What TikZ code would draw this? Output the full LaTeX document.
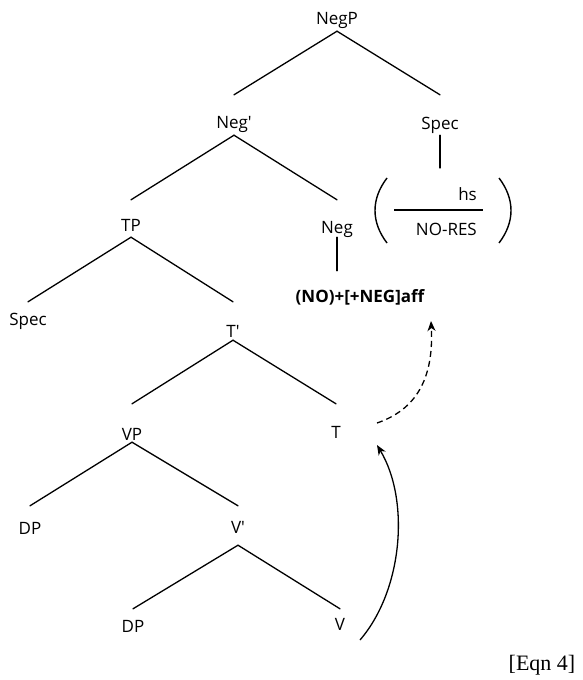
\documentclass[tikz,border=0pt]{standalone}
\usepackage{fontspec}
\setmainfont{Open Sans}[Ligatures=TeXOff]
\newfontfamily\eqnfont{Liberation Serif}
\usetikzlibrary{arrows.meta}
\begin{document}
\begin{tikzpicture}[x=1pt,y=-1pt,
  lab/.style={font=\fontsize{17}{20}\selectfont, inner sep=0pt, anchor=base},
  edge/.style={line width=1.3pt, line cap=round},
  mv/.style={line width=1.3pt, -{Stealth[length=10pt,width=8pt,inset=3pt]}},
  dashmv/.style={mv, dash pattern=on 6pt off 4pt}
]
\useasboundingbox (0,0) rectangle (582,680);
% tree labels
\node[lab, text height=33pt, text depth=7pt] (negp) at (337,24) {NegP};
\node[lab, text height=33pt, text depth=7pt] (negbar) at (234,128) {Neg'};
\node[lab, text height=34pt, text depth=6pt] (specr) at (440,129) {Spec};
\node[lab, text height=31pt, text depth=6pt] (tp) at (131,231) {TP};
\node[lab, text height=33pt, text depth=4pt] (neg) at (337,233) {Neg};
\node[lab, font=\fontsize{17}{20}\selectfont\bfseries, text height=31pt] (aff) at (360,302) {(NO)+[+NEG]aff};
\node[lab, text height=23pt] (specl) at (28,325) {Spec};
\node[lab, text height=35pt, text depth=3pt] (tbar) at (233,337) {T'};
\node[lab, text height=36pt, text depth=2pt] (vp) at (132,440) {VP};
\node[lab, text height=34pt] (t) at (336,438) {T};
\node[lab, text height=28pt] (dp1) at (30,534) {DP};
\node[lab, text height=27pt, text depth=12pt] (vbar) at (238,533) {V'};
\node[lab, text height=23pt] (dp2) at (133,632) {DP};
\node[lab, text height=21pt] (v) at (340,630) {V};
% tree edges
\draw[edge] (negp.south) -- (negbar.north);
\draw[edge] (negp.south) -- (specr.north);
\draw[edge] (negbar.south) -- (tp.north);
\draw[edge] (negbar.south) -- (neg.north);
\draw[edge] (tp.south) -- (specl.north);
\draw[edge] (tp.south) -- (tbar.north);
\draw[edge] (tbar.south) -- (vp.north);
\draw[edge] (tbar.south) -- (t.north);
\draw[edge] (vp.south) -- (dp1.north);
\draw[edge] (vp.south) -- (vbar.north);
\draw[edge] (vbar.south) -- (dp2.north);
\draw[edge] (vbar.south) -- (v.north);
\draw[edge] (neg.south) -- (neg.south |- aff.north);
% bracketed fraction under Spec
\coordinate (brtop) at (440,168);
\draw[edge] (specr.south) -- (specr.south |- brtop);
\node[lab, anchor=base east] (hs) at (477,200) {hs};
\node[lab, anchor=base east] (nores) at (477,235) {NO-RES};
\coordinate (fl) at (394,210);
\coordinate (fr) at (483,210);
\draw[line width=1.4pt] (fl) -- (fr);
\draw[line width=1.4pt] (387,178) .. controls (371,199) and (371,222) .. (387,243);
\draw[line width=1.4pt] (499,178) .. controls (515,199) and (515,222) .. (499,243);
% movement arrows
\coordinate (vs) at (360,640);
\coordinate (te) at (377,445);
\draw[mv] (vs) .. controls (403,590) and (410,500) .. (te);
\coordinate (ts) at (377,423);
\coordinate (ae) at (431,321);
\draw[dashmv] (ts) .. controls (415,410) and (434,380) .. (ae);
% equation label
\node[font=\eqnfont\fontsize{22}{26}\selectfont, inner sep=0pt] (eqn) at (542,665) {[Eqn 4]};
\end{tikzpicture}
\end{document}
